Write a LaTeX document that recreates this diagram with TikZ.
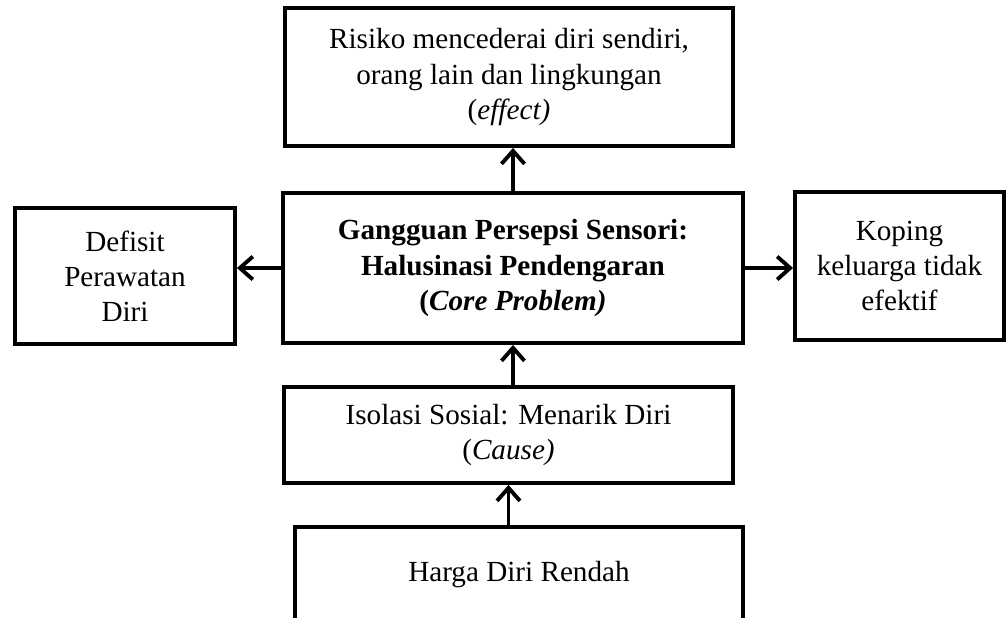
\documentclass[tikz,border=0pt]{standalone}
\usepackage{fontspec}
\setmainfont{Liberation Serif}
\usetikzlibrary{arrows.meta, positioning}
\tikzset{
  kotak/.style={rectangle, draw=black, line width=2.2pt, fill=white,
                align=center, inner sep=2pt,
                font=\fontsize{16.6}{20}\selectfont},
  panah/.style={-{Straight Barb[length=2.6mm, width=4.6mm]}, line width=2.2pt}
}
\begin{document}
\begin{tikzpicture}[
  inti/.style={kotak, font=\fontsize{16.6}{20}\selectfont\bfseries}
]
  \useasboundingbox (0,0) rectangle (20.12,-12.34);
  % -- kotak-kotak masalah --
  \node[kotak, minimum width=8.96cm, minimum height=2.76cm] (efek) at (10.18,-1.54)
        {Risiko mencederai diri sendiri,\\orang lain dan lingkungan\\(\textit{effect)}};
  \node[inti, minimum width=9.2cm, minimum height=3.0cm] (inti) at (10.26,-5.36)
        {Gangguan Persepsi Sensori:\\Halusinasi Pendengaran\\(\textit{Core Problem)}};
  \node[kotak, minimum width=4.4cm, minimum height=2.72cm] (defisit) at (2.5,-5.52)
        {Defisit\\Perawatan\\Diri};
  \node[kotak, minimum width=4.18cm, minimum height=2.96cm] (koping) at (17.99,-5.32)
        {Koping\\keluarga tidak\\efektif};
  \node[kotak, minimum width=8.98cm, minimum height=1.92cm] (sebab) at (10.17,-8.70)
        {Isolasi Sosial: Menarik Diri\\(\textit{Cause)}};
  \node[kotak, minimum width=8.96cm, minimum height=1.92cm] (harga) at (10.38,-11.5)
        {Harga Diri Rendah};

  % -- panah --
  \draw[panah] (inti.north) -- (inti.north |- efek.south);
  \draw[panah] (inti.west) -- (inti.west -| defisit.east);
  \draw[panah] (inti.east) -- (inti.east -| koping.west);
  \draw[panah] (sebab.north -| inti.south) -- (inti.south);
  \draw[panah] (harga.north -| sebab.south) -- (sebab.south);
\end{tikzpicture}
\end{document}
